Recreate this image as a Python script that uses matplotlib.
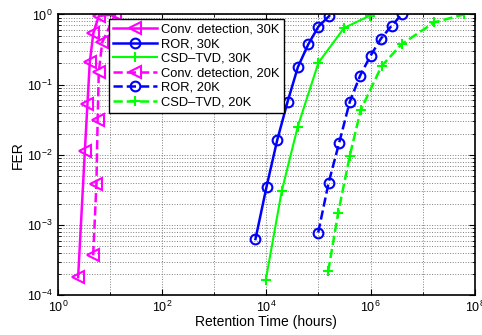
import numpy as np
import matplotlib
matplotlib.use("Agg")
import matplotlib.pyplot as plt
import matplotlib.ticker as ticker

plt.rcParams["font.family"] = ["Liberation Sans", "DejaVu Sans"]
plt.rcParams["mathtext.fontset"] = "custom"
plt.rcParams["mathtext.rm"] = "Liberation Sans"

# retention time (hours) vs FER
conv30_t = [2.45, 3.3, 3.7, 4.1, 4.8, 6.1, 12.4]
conv30_fer = [1.8e-4, 0.0114, 0.053, 0.208, 0.54, 0.95, 1.0]

ror30_t = [6.2e3, 1.01e4, 1.62e4, 2.56e4, 4.04e4, 6.4e4, 1.0e5, 1.61e5]
ror30_fer = [6.3e-4, 3.5e-3, 0.0162, 0.057, 0.178, 0.376, 0.67, 0.95]

csd30_t = [9.8e3, 1.97e4, 4.0e4, 1.0e5, 3.1e5, 9.7e5]
csd30_fer = [1.67e-4, 3.0e-3, 0.025, 0.205, 0.64, 0.96]

conv20_t = [4.76, 5.5, 5.8, 6.1, 7.1, 12.6]
conv20_fer = [3.7e-4, 3.8e-3, 0.031, 0.15, 0.40, 1.0]

ror20_t = [9.9e4, 1.57e5, 2.5e5, 4.0e5, 6.3e5, 1.0e6, 1.58e6, 2.54e6, 4.0e6]
ror20_fer = [7.8e-4, 4.0e-3, 0.0148, 0.057, 0.134, 0.258, 0.45, 0.69, 1.0]

csd20_t = [1.54e5, 2.4e5, 4.0e5, 6.46e5, 1.63e6, 3.95e6, 1.67e7, 6.2e7]
csd20_fer = [2.2e-4, 1.5e-3, 9.7e-3, 0.043, 0.184, 0.376, 0.77, 1.0]

fig = plt.figure(figsize=(4.82, 3.35), dpi=100)
ax = fig.add_axes([0.120, 0.119, 0.865, 0.838])

mag, blu, grn = (1, 0, 1), (0, 0, 1), (0, 1, 0)
ax.plot(conv30_t, conv30_fer, "-", color=mag, lw=1.8, marker="<", ms=8, mfc="none", mew=1.5, label="Conv. detection, 30K")
ax.plot(ror30_t, ror30_fer, "-", color=blu, lw=1.8, marker="o", ms=7, mfc="none", mew=1.5, label="ROR, 30K")
ax.plot(csd30_t, csd30_fer, "-", color=grn, lw=1.5, marker="+", ms=7, mew=1.5, label="CSD\u2013TVD, 30K")
ax.plot(conv20_t, conv20_fer, "--", color=mag, lw=1.8, marker="<", ms=8, mfc="none", mew=1.5, label="Conv. detection, 20K")
ax.plot(ror20_t, ror20_fer, "--", color=blu, lw=1.8, marker="o", ms=7, mfc="none", mew=1.5, label="ROR, 20K")
ax.plot(csd20_t, csd20_fer, "--", color=grn, lw=1.8, marker="+", ms=7, mew=1.5, label="CSD\u2013TVD, 20K")

ax.set_xscale("log")
ax.set_yscale("log")
ax.set_xlim(1, 1e8)
ax.set_ylim(1e-4, 1)

ax.xaxis.set_major_locator(ticker.FixedLocator([1, 1e2, 1e4, 1e6, 1e8]))
ax.xaxis.set_minor_locator(ticker.FixedLocator([1e1, 1e3, 1e5, 1e7]))
ax.xaxis.set_minor_formatter(ticker.NullFormatter())
ax.yaxis.set_major_locator(ticker.LogLocator(base=10))
ax.yaxis.set_minor_locator(ticker.LogLocator(base=10, subs=np.arange(2, 10)))
ax.yaxis.set_minor_formatter(ticker.NullFormatter())

ax.grid(True, which="both", linestyle=":", color="0.5", lw=0.7)
ax.tick_params(which="both", direction="in", top=True, right=True, labelsize=9)
ax.tick_params(which="major", length=4)
ax.tick_params(which="minor", length=2)
for s in ax.spines.values():
    s.set_linewidth(1.2)

ax.set_xlabel("Retention Time (hours)", fontsize=10, labelpad=0)
ax.set_ylabel("FER", fontsize=10, labelpad=2)

leg = ax.legend(loc="upper left", bbox_to_anchor=(0.122, 0.984), fontsize=9.3,
                fancybox=False, framealpha=1, edgecolor="k", borderpad=0.35,
                labelspacing=0.2, handlelength=3.4, handletextpad=0.3, borderaxespad=0)
leg.get_frame().set_linewidth(1.0)

fig.savefig("out.png", dpi=100)
